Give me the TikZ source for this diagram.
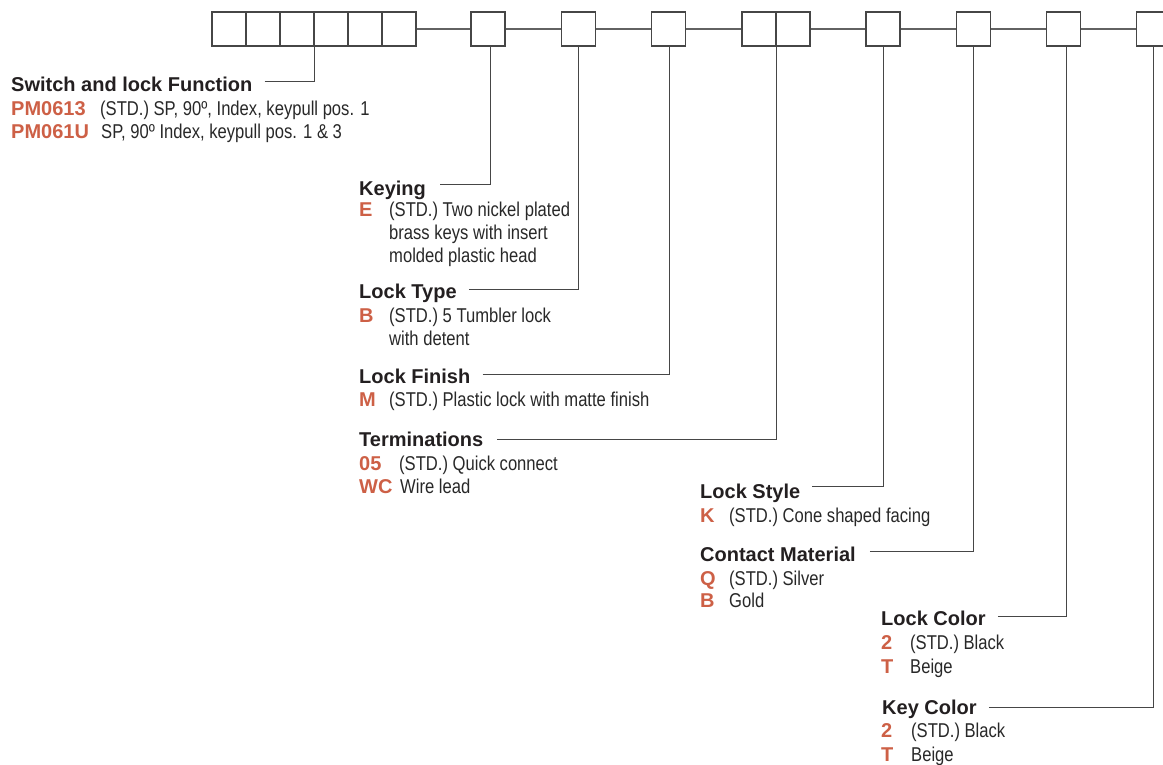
\documentclass[tikz,border=0pt]{standalone}
\usepackage{fontspec}
\setmainfont{Liberation Sans}
\newfontfamily\condfont[FakeStretch=0.83]{Liberation Sans}
\definecolor{codeorange}{RGB}{205,96,70}
\definecolor{headtxt}{RGB}{35,31,32}
\definecolor{bodytxt}{RGB}{40,40,40}
\definecolor{linegray}{RGB}{70,70,70}
\tikzset{
  cell/.style={draw=linegray, line width=1.1pt, minimum width=34pt, minimum height=34pt, inner sep=0pt},
  link/.style={draw=linegray!85, line width=1.1pt},
  lead/.style={draw=linegray, line width=1pt},
  head/.style={anchor=base west, inner sep=0pt, text=headtxt, font=\fontsize{20}{24}\selectfont\bfseries},
  code/.style={anchor=base west, inner sep=0pt, text=codeorange, font=\fontsize{20}{24}\selectfont\bfseries},
  desc/.style={anchor=base west, inner sep=0pt, text=bodytxt, font=\fontsize{20}{24}\selectfont\condfont},
}
\begin{document}
\begin{tikzpicture}[x=1pt,y=-1pt]
\useasboundingbox (0,0) rectangle (1163,764);
% boxes
\node[cell] (b1) at (229,29) {};
\node[cell] (b2) at (263,29) {};
\node[cell] (b3) at (297,29) {};
\node[cell] (b4) at (331,29) {};
\node[cell] (b5) at (365,29) {};
\node[cell] (b6) at (399,29) {};
\node[cell] (b7) at (488,29) {};
\node[cell] (b8) at (578.7,29) {};
\node[cell] (b9) at (668.7,29) {};
\node[cell] (b10) at (759,29) {};
\node[cell] (b11) at (793,29) {};
\node[cell] (b12) at (883,29) {};
\node[cell] (b13) at (973.4,29) {};
\node[cell] (b14) at (1063.7,29) {};
\node[cell] (b15) at (1153.7,29) {};
\draw[link] (b6.east) -- (b7.west);
\draw[link] (b7.east) -- (b8.west);
\draw[link] (b8.east) -- (b9.west);
\draw[link] (b9.east) -- (b10.west);
\draw[link] (b11.east) -- (b12.west);
\draw[link] (b12.east) -- (b13.west);
\draw[link] (b13.east) -- (b14.west);
\draw[link] (b14.east) -- (b15.west);

% Switch and lock function
\node[head] (h1) at (11,91) {Switch and lock Function};
\node[code] (c1a) at (11,115) {PM0613};
\node[desc] (d1a) at (100,115) {(STD.) SP, 90º, Index, keypull pos. 1};
\node[code] (c1b) at (11,138) {PM061U};
\node[desc] (d1b) at (101,138) {SP, 90º Index, keypull pos. 1 \& 3};
\draw[lead] ([xshift=12pt,yshift=10pt]h1.base east) -| (b3.south east);

% Keying
\node[head] (h2) at (359,195) {Keying};
\node[code] (c2) at (359,216) {E};
\node[desc] (d2a) at (389,216) {(STD.) Two nickel plated};
\node[desc] (d2b) at (389,239) {brass keys with insert};
\node[desc] (d2c) at (389,262) {molded plastic head};
\draw[lead] ([xshift=14pt,yshift=11pt]h2.base east) -| ([xshift=2.5pt]b7.south);

% Lock type
\node[head] (h3) at (359,298.5) {Lock Type};
\node[code] (c3) at (359,322) {B};
\node[desc] (d3a) at (389,322) {(STD.) 5 Tumbler lock};
\node[desc] (d3b) at (389,345) {with detent};
\draw[lead] ([xshift=12pt,yshift=9.5pt]h3.base east) -| (b8.south);

% Lock finish
\node[head] (h4) at (359,383) {Lock Finish};
\node[code] (c4) at (359,406) {M};
\node[desc] (d4) at (389,406) {(STD.) Plastic lock with matte finish};
\draw[lead] ([xshift=12pt,yshift=9pt]h4.base east) -| ([xshift=1pt]b9.south);

% Terminations
\node[head] (h5) at (359,446.3) {Terminations};
\node[code] (c5a) at (359,470) {05};
\node[desc] (d5a) at (399,470) {(STD.) Quick connect};
\node[code] (c5b) at (359,493) {WC};
\node[desc] (d5b) at (400,493) {Wire lead};
\draw[lead] ([xshift=14pt,yshift=6.5pt]h5.base east) -| (b10.south east);

% Lock style
\node[head] (h6) at (700,498) {Lock Style};
\node[code] (c6) at (700,522) {K};
\node[desc] (d6) at (729,522) {(STD.) Cone shaped facing};
\draw[lead] ([xshift=12pt,yshift=11.5pt]h6.base east) -| (b12.south);

% Contact material
\node[head] (h7) at (700,561) {Contact Material};
\node[code] (c7a) at (700,585) {Q};
\node[desc] (d7a) at (729,585) {(STD.) Silver};
\node[code] (c7b) at (700,607) {B};
\node[desc] (d7b) at (729,607) {Gold};
\draw[lead] ([xshift=14pt,yshift=9.3pt]h7.base east) -| (b13.south);

% Lock color
\node[head] (h8) at (881,625) {Lock Color};
\node[code] (c8a) at (881,649.5) {2};
\node[desc] (d8a) at (910,649.5) {(STD.) Black};
\node[code] (c8b) at (881,673) {T};
\node[desc] (d8b) at (910,673) {Beige};
\draw[lead] ([xshift=12pt,yshift=9pt]h8.base east) -| ([xshift=3pt]b14.south);

% Key color
\node[head] (h9) at (882,714.3) {Key Color};
\node[code] (c9a) at (881,737.5) {2};
\node[desc] (d9a) at (911,737.5) {(STD.) Black};
\node[code] (c9b) at (881,761) {T};
\node[desc] (d9b) at (911,761) {Beige};
\draw[lead] ([xshift=12pt,yshift=7pt]h9.base east) -| (b15.south);
\end{tikzpicture}
\end{document}
